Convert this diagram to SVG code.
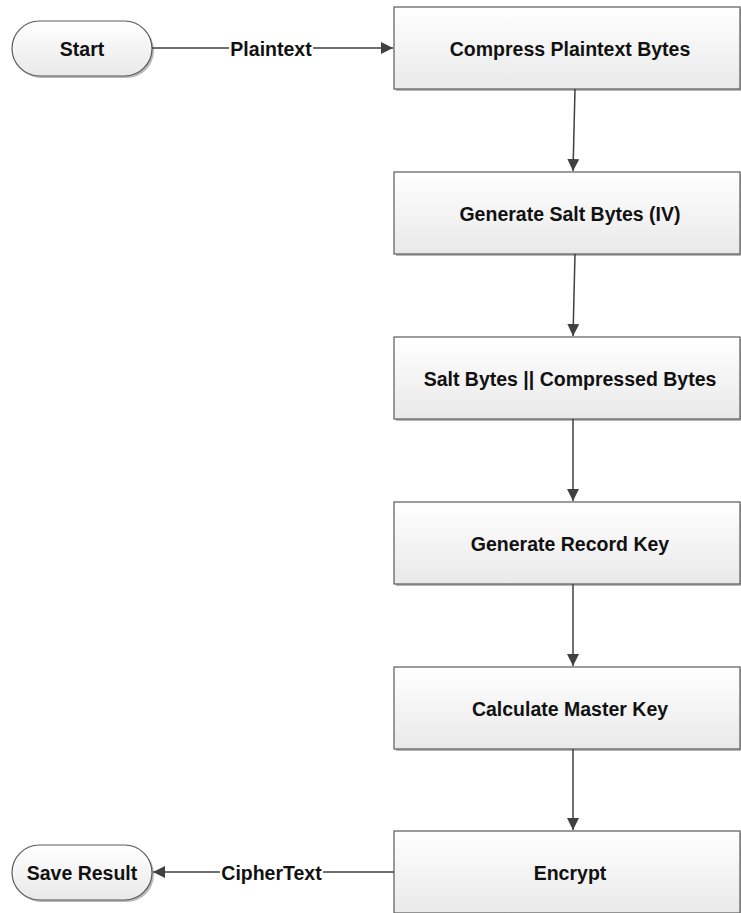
<svg xmlns="http://www.w3.org/2000/svg" width="741" height="913" viewBox="0 0 741 913">
<style>
.box{fill:url(#g);stroke:#5a5a5a;stroke-width:1.2}
.sh{fill:#b8b8b8}
.t{font-family:"Liberation Sans",Arial,sans-serif;font-weight:bold;font-size:19.5px;fill:#111;text-anchor:middle;dominant-baseline:central}
.c{stroke:#404040;stroke-width:1.5;fill:none}
.lbl{fill:#fff}
</style>
<defs>
<linearGradient id="g" x1="0" y1="0" x2="0" y2="1">
<stop offset="0" stop-color="#ffffff"/>
<stop offset="1" stop-color="#e9e9e9"/>
</linearGradient>
<marker id="a" viewBox="0 0 10 10" refX="10" refY="5" markerWidth="8" markerHeight="8" markerUnits="strokeWidth" orient="auto">
<path d="M0,0 L10,5 L0,10 z" fill="#404040"/>
</marker>
</defs>
<rect width="741" height="913" fill="#fff"/>
<g id="start">
<rect class="sh" x="14" y="23" width="140" height="55" rx="27.5"/>
<rect class="box" x="12" y="21" width="140" height="55" rx="27.5"/>
<text class="t" x="82" y="48.5">Start</text>
</g>
<g id="save">
<rect class="sh" x="14" y="847" width="140" height="55" rx="27.5"/>
<rect class="box" x="12" y="845" width="140" height="55" rx="27.5"/>
<text class="t" x="82" y="872.5">Save Result</text>
</g>
<g id="n1">
<rect class="sh" x="396" y="9" width="346" height="82"/>
<rect class="box" x="394" y="7" width="346" height="82"/>
<text class="t" x="570" y="48.5">Compress Plaintext Bytes</text>
</g>
<g id="n2">
<rect class="sh" x="396" y="174" width="346" height="82"/>
<rect class="box" x="394" y="172" width="346" height="82"/>
<text class="t" x="570" y="213.5">Generate Salt Bytes (IV)</text>
</g>
<g id="n3">
<rect class="sh" x="396" y="339" width="346" height="82"/>
<rect class="box" x="394" y="337" width="346" height="82"/>
<text class="t" x="570" y="378.5">Salt Bytes || Compressed Bytes</text>
</g>
<g id="n4">
<rect class="sh" x="396" y="504" width="346" height="82"/>
<rect class="box" x="394" y="502" width="346" height="82"/>
<text class="t" x="570" y="543.5">Generate Record Key</text>
</g>
<g id="n5">
<rect class="sh" x="396" y="669" width="346" height="82"/>
<rect class="box" x="394" y="667" width="346" height="82"/>
<text class="t" x="570" y="708.5">Calculate Master Key</text>
</g>
<g id="n6">
<rect class="sh" x="396" y="833" width="346" height="82"/>
<rect class="box" x="394" y="831" width="346" height="82"/>
<text class="t" x="570" y="872.5">Encrypt</text>
</g>
<g id="connectors">
<path class="c" d="M152,48 H393" marker-end="url(#a)"/>
<rect class="lbl" x="229" y="38" width="84" height="20"/>
<text class="t" x="271" y="48.5">Plaintext</text>
<path class="c" d="M575,89 L573,171" marker-end="url(#a)"/>
<path class="c" d="M575,254 L573,336" marker-end="url(#a)"/>
<path class="c" d="M573,419 L573,501" marker-end="url(#a)"/>
<path class="c" d="M573,584 L573,666" marker-end="url(#a)"/>
<path class="c" d="M573,749 L573,830" marker-end="url(#a)"/>
<path class="c" d="M394,872 H153" marker-end="url(#a)"/>
<rect class="lbl" x="220" y="862" width="103" height="20"/>
<text class="t" x="271.5" y="872.5">CipherText</text>
</g>
</svg>
